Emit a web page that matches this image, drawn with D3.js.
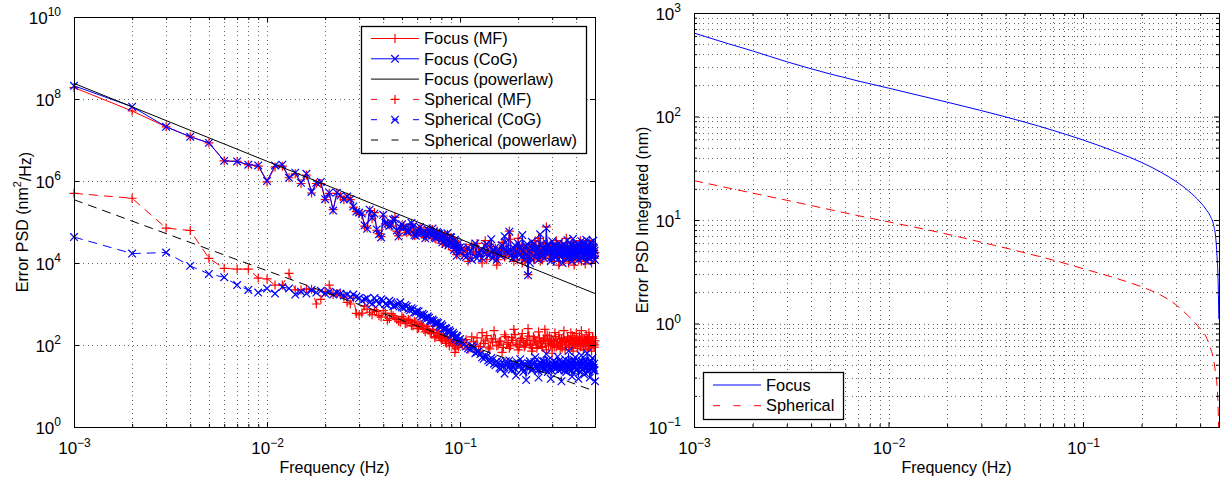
<!DOCTYPE html>
<html>
<head>
<meta charset="utf-8">
<script src="https://cdn.jsdelivr.net/npm/d3@7"></script>
<style>
  body { margin: 0; background: #fff; }
  text { font-family: "Liberation Sans", Arial, Helvetica, sans-serif; fill: #000; }
</style>
</head>
<body>
<svg id="chart" width="1222" height="481"></svg>
<script>
// frequency bins (Hz) for the PSD panel
const freq = [
  0.001,0.002,0.003,0.004,0.005,0.006,0.007,0.008,0.009,0.010,
  0.011,0.012,0.013,0.014,0.015,0.016,0.017,0.018,0.019,0.020,
  0.021,0.022,0.023,0.024,0.025,0.026,0.027,0.028,0.029,0.030,
  0.031,0.032,0.033,0.034,0.035,0.036,0.037,0.038,0.039,0.040,
  0.041,0.042,0.043,0.044,0.045,0.046,0.047,0.048,0.049,0.050,
  0.051,0.052,0.053,0.054,0.055,0.056,0.057,0.058,0.059,0.060,
  0.061,0.062,0.063,0.064,0.065,0.066,0.067,0.068,0.069,0.070,
  0.071,0.072,0.073,0.074,0.075,0.076,0.077,0.078,0.079,0.080,
  0.081,0.082,0.083,0.084,0.085,0.086,0.087,0.088,0.089,0.090,
  0.091,0.092,0.093,0.094,0.095,0.096,0.097,0.098,0.099,0.100,
  0.1025,0.105,0.1075,0.110,0.1125,0.115,0.1175,0.120,0.1225,0.125,0.1275,0.130,0.1325,0.135,0.1375,0.140,
  0.1425,0.145,0.1475,0.150,0.1525,0.155,0.1575,0.160,0.1625,0.165,0.1675,0.170,0.1725,0.175,0.1775,0.180,
  0.1825,0.185,0.1875,0.190,0.1925,0.195,0.1975,0.200,0.2025,0.205,0.2075,0.210,0.2125,0.215,0.2175,0.220,
  0.2225,0.225,0.2275,0.230,0.2325,0.235,0.2375,0.240,0.2425,0.245,0.2475,0.250,0.2525,0.255,0.2575,0.260,
  0.2625,0.265,0.2675,0.270,0.2725,0.275,0.2775,0.280,0.2825,0.285,0.2875,0.290,0.2925,0.295,0.2975,0.300,
  0.3025,0.305,0.3075,0.310,0.3125,0.315,0.3175,0.320,0.3225,0.325,0.3275,0.330,0.3325,0.335,0.3375,0.340,
  0.3425,0.345,0.3475,0.350,0.3525,0.355,0.3575,0.360,0.3625,0.365,0.3675,0.370,0.3725,0.375,0.3775,0.380,
  0.3825,0.385,0.3875,0.390,0.3925,0.395,0.3975,0.400,0.4025,0.405,0.4075,0.410,0.4125,0.415,0.4175,0.420,
  0.4225,0.425,0.4275,0.430,0.4325,0.435,0.4375,0.440,0.4425,0.445,0.4475,0.450,0.4525,0.455,0.4575,0.460,
  0.4625,0.465,0.4675,0.470,0.4725,0.475,0.4775,0.480,0.4825,0.485,0.4875,0.490,0.4925,0.495,0.4975,0.500
];

const focusMF = [
  1.9e8,5.1e7,2.1e7,1.2e7,8.5e6,3.1e6,3.0e6,2.5e6,2.3e6,9.5e5,
  2.2e6,2.3e6,1.2e6,1.5e6,8.7e5,1.4e6,5.1e5,8.7e5,8.7e5,3.5e5,
  5.0e5,2.0e5,5.0e5,4.2e5,3.5e5,4.0e5,3.5e5,2.3e5,1.8e5,1.6e5,
  1.5e5,7.9e4,7.1e4,1.9e5,1.2e5,1.7e5,6.3e4,5.2e4,4.4e4,1.4e5,9.0e4,9.5e4,8.5e4,7.9e4,1.1e5,1.3e5,6.0e4,4.6e4,7.0e4,8.3e4,
  7.8e4,7.1e4,5.5e4,6.0e4,6.3e4,8.9e4,7.5e4,4.6e4,4.8e4,5.6e4,6.5e4,7.2e4,5.0e4,5.2e4,6.3e4,4.2e4,4.5e4,6.3e4,5.8e4,5.0e4,
  4.4e4,6.6e4,5.5e4,4.0e4,3.8e4,6.0e4,5.0e4,4.8e4,4.2e4,3.5e4,3.0e4,4.2e4,4.6e4,2.8e4,3.4e4,5.0e4,2.6e4,3.3e4,4.1e4,4.0e4,
  3.0e4,2.5e4,2.0e4,3.5e4,3.2e4,1.6e4,2.4e4,2.8e4,1.8e4,2.2e4,
  1.6e4,2.0e4,2.4e4,1.1e4,1.3e4,2.8e4,1.9e4,1.6e4,3.0e4,2.2e4,1.5e4,1.0e4,2.1e4,3.5e4,1.2e4,1.8e4,
  2.9e4,2.5e4,1.7e4,1.3e4,2.3e4,8.9e3,1.2e4,2.0e4,1.9e4,3.2e4,2.6e4,1.4e4,1.5e4,2.2e4,2.0e4,6.0e4,
  3.8e4,1.6e4,1.4e4,1.1e4,1.9e4,2.5e4,1.2e4,4.0e4,2.6e4,1.8e4,1.7e4,1.0e4,2.9e4,2.2e4,1.1e4,1.4e4,
  1.8e4,5.2e3,2.4e4,2.0e4,1.5e4,2.8e4,2.1e4,1.3e4,1.2e4,3.5e4,2.7e4,1.8e4,1.5e4,4.0e4,2.3e4,1.1e4,
  1.8e4,2.2e4,1.2e4,3.2e4,2.5e4,1.6e4,1.7e4,7.6e4,3.0e4,2.0e4,2.1e4,1.3e4,1.5e4,2.8e4,2.4e4,1.8e4,
  1.9e4,1.1e4,1.3e4,2.5e4,2.2e4,3.5e4,1.8e4,1.4e4,2.6e4,8.9e3,1.4e4,2.0e4,1.9e4,2.8e4,3.1e4,1.6e4,
  2.0e4,1.1e4,1.5e4,2.5e4,2.2e4,4.0e4,2.7e4,1.8e4,1.6e4,1.0e4,1.3e4,2.2e4,2.4e4,1.4e4,1.9e4,3.2e4,
  2.3e4,1.8e4,1.4e4,8.9e3,1.6e4,2.0e4,2.0e4,2.8e4,2.6e4,1.3e4,1.7e4,2.2e4,1.2e4,1.6e4,2.0e4,3.5e4,
  1.8e4,1.1e4,2.4e4,2.0e4,3.0e4,1.4e4,1.6e4,2.8e4,2.2e4,9.5e3,1.3e4,1.8e4,1.9e4,2.5e4,2.3e4,1.3e4,
  1.5e4,2.2e4,2.1e4,3.5e4,2.6e4,1.6e4,1.4e4,1.0e4,1.7e4,2.0e4,2.2e4,2.8e4,2.0e4,1.3e4,1.5e4,1.8e4
];

const focusCoG = [
  2.1e8,6.5e7,2.1e7,1.2e7,8.5e6,3.1e6,3.0e6,2.5e6,2.4e6,1.0e6,
  2.4e6,2.5e6,1.2e6,1.6e6,9.0e5,1.5e6,5.4e5,9.0e5,9.5e5,3.6e5,
  5.2e5,1.9e5,5.2e5,4.4e5,3.6e5,4.2e5,3.6e5,2.4e5,1.8e5,1.7e5,
  1.6e5,8.3e4,6.8e4,2.0e5,1.25e5,1.6e5,6.6e4,5.0e4,4.2e4,1.5e5,9.5e4,9.0e4,8.0e4,8.5e4,1.15e5,1.2e5,6.2e4,4.4e4,7.4e4,8.8e4,
  7.5e4,7.5e4,5.8e4,5.8e4,6.6e4,9.5e4,7.9e4,4.8e4,4.6e4,5.4e4,6.8e4,7.6e4,5.3e4,5.5e4,6.0e4,4.0e4,4.7e4,6.6e4,6.1e4,5.3e4,
  4.6e4,7.0e4,5.8e4,4.2e4,4.0e4,5.7e4,5.3e4,5.0e4,4.4e4,3.7e4,3.2e4,4.5e4,4.8e4,2.9e4,3.6e4,5.3e4,2.7e4,3.1e4,4.3e4,4.2e4,
  3.1e4,2.6e4,2.1e4,3.7e4,3.4e4,1.5e4,2.5e4,3.0e4,1.9e4,2.4e4,
  2.2e4,1.5e4,1.4e4,2.4e4,1.9e4,1.2e4,2.5e4,3.0e4,1.3e4,1.7e4,2.1e4,1.3e4,1.8e4,2.6e4,2.9e4,1.5e4,
  1.6e4,3.8e4,1.3e4,2.0e4,2.4e4,1.2e4,2.0e4,1.6e4,1.5e4,2.7e4,2.2e4,4.5e4,3.2e4,1.9e4,1.7e4,5.8e4,
  2.1e4,1.6e4,1.3e4,2.3e4,2.7e4,1.4e4,1.8e4,3.0e4,2.3e4,1.6e4,1.4e4,4.8e4,2.0e4,1.2e4,1.6e4,2.6e4,
  2.9e4,5.0e3,1.9e4,1.0e4,1.3e4,3.3e4,2.4e4,2.1e4,3.0e4,1.4e4,1.7e4,2.5e4,2.2e4,1.2e4,1.5e4,5.0e4,
  2.8e4,1.7e4,1.6e4,2.4e4,1.3e4,2.0e4,2.5e4,7.0e4,1.8e4,2.9e4,2.6e4,1.9e4,2.2e4,1.1e4,1.4e4,3.4e4,
  1.7e4,2.0e4,2.7e4,1.5e4,1.4e4,2.6e4,2.2e4,1.2e4,1.6e4,3.1e4,2.5e4,1.8e4,1.4e4,2.3e4,2.0e4,1.0e4,
  1.8e4,2.9e4,2.4e4,1.6e4,2.1e4,1.3e4,1.6e4,3.6e4,1.3e4,2.0e4,2.5e4,1.4e4,1.8e4,2.7e4,2.2e4,1.1e4,
  1.4e4,3.9e4,2.8e4,1.7e4,1.6e4,2.4e4,2.1e4,1.5e4,1.7e4,3.0e4,2.3e4,1.2e4,1.5e4,2.6e4,2.5e4,1.9e4,
  1.7e4,3.4e4,2.1e4,1.3e4,1.5e4,2.8e4,2.4e4,1.6e4,3.0e4,2.2e4,1.6e4,3.7e4,2.0e4,1.1e4,1.4e4,2.5e4,
  2.6e4,1.8e4,2.2e4,1.3e4,1.5e4,3.2e4,1.8e4,2.1e4,2.5e4,1.4e4,1.6e4,3.5e4,2.2e4,1.7e4,2.0e4,1.2e4
];

const sphMF = [
  5.0e5,3.8e5,7.1e4,6.2e4,1.3e4,7.4e3,7.1e3,7.1e3,4.3e3,4.1e3,
  2.9e3,2.9e3,5.6e3,2.2e3,2.2e3,2.3e3,2.3e3,1.0e3,1.3e3,2.0e3,
  2.9e3,1.7e3,1.8e3,1.7e3,1.5e3,1.1e3,1.0e3,1.4e3,5.9e2,5.4e2,
  6.0e2,8.9e2,7.5e2,6.3e2,5.5e2,7.2e2,6.6e2,5.2e2,4.8e2,6.9e2,6.0e2,4.0e2,4.4e2,5.8e2,5.2e2,4.6e2,4.2e2,3.8e2,3.6e2,5.0e2,
  4.5e2,3.3e2,3.4e2,4.2e2,4.0e2,3.0e2,2.9e2,3.8e2,3.6e2,2.5e2,2.6e2,3.3e2,3.1e2,2.8e2,2.4e2,2.1e2,2.5e2,2.9e2,2.3e2,2.0e2,
  1.9e2,2.4e2,2.0e2,1.5e2,1.6e2,2.2e2,1.9e2,1.7e2,1.5e2,1.3e2,1.4e2,1.8e2,1.5e2,1.2e2,1.1e2,1.6e2,1.3e2,95,1.2e2,1.4e2,
  1.1e2,1.0e2,1.2e2,66,80,1.3e2,1.0e2,89,1.2e2,1.1e2,
  98,112,135,79,85,158,120,100,150,71,92,200,110,126,170,89,
  80,141,118,224,140,95,100,120,125,66,88,178,160,105,115,83,
  95,151,130,240,180,112,102,76,90,132,145,191,118,89,98,112,
  128,251,165,100,105,71,85,158,140,126,112,83,100,209,150,112,
  122,91,88,141,132,240,108,76,175,120,96,166,125,100,140,63,
  105,132,90,200,160,89,120,112,98,178,138,79,112,141,85,105,
  150,224,128,76,95,120,115,158,142,87,100,132,125,200,88,95,
  168,71,110,151,135,112,102,191,148,83,96,126,120,166,130,91,
  92,224,155,110,118,76,100,141,132,100,108,178,122,79,140,132,
  92,200,160,95,105,115,128,71,98,158,145,105,112,89,100,126
];

const sphCoG = [
  4.3e4,1.7e4,1.8e4,8.5e3,5.4e3,4.5e3,2.9e3,2.2e3,1.9e3,2.4e3,
  1.8e3,2.6e3,2.4e3,1.7e3,2.0e3,1.8e3,2.2e3,1.9e3,2.1e3,1.8e3,
  2.0e3,1.7e3,1.9e3,1.8e3,1.6e3,1.7e3,1.5e3,1.7e3,1.5e3,1.4e3,
  1.2e3,1.3e3,1.4e3,1.1e3,1.0e3,1.4e3,1.2e3,1.0e3,1.3e3,1.2e3,1.0e3,9.5e2,1.2e3,1.1e3,8.8e2,9.1e2,9.6e2,1.0e3,1.1e3,8.3e2,
  8.0e2,9.5e2,8.8e2,7.6e2,7.0e2,7.9e2,7.4e2,6.3e2,6.2e2,6.9e2,6.6e2,5.5e2,4.9e2,5.8e2,5.4e2,4.6e2,4.3e2,5.0e2,4.6e2,4.0e2,
  3.8e2,4.2e2,3.9e2,3.5e2,3.2e2,3.6e2,3.4e2,2.9e2,2.7e2,3.2e2,2.9e2,2.5e2,2.4e2,2.6e2,2.5e2,2.2e2,2.0e2,2.3e2,2.1e2,1.8e2,
  1.7e2,2.0e2,1.8e2,1.5e2,1.4e2,1.7e2,1.6e2,1.3e2,1.2e2,1.4e2,
  120,105,92,83,78,95,88,63,66,71,60,50,46,56,52,42,
  38,48,44,35,32,40,36,28,26,38,30,20,40,33,28,42,
  34,25,30,35,26,18,38,32,30,45,36,26,22,35,33,14,
  28,30,35,40,30,24,26,33,38,50,32,28,24,16,30,35,
  36,42,28,25,40,32,26,60,33,22,44,35,28,15,24,30,
  34,40,30,26,38,35,28,52,32,24,42,32,26,13,30,38,
  35,28,24,45,36,22,28,33,26,71,40,25,30,35,24,17,
  34,40,44,30,28,50,36,24,26,33,34,15,30,38,22,28,
  32,56,40,25,26,35,34,19,30,42,38,30,28,63,35,22,
  24,33,40,16,30,40,26,28,36,48,32,24,28,35,24,13
];

// power-law fits, end points
const powFreq = [0.001, 0.5];
const focusPow = [2.4e8, 1.8e3];
const sphPow = [3.5e5, 7.4];

// integrated PSD panel
const intFreq = [0.001,0.0015,0.002,0.003,0.005,0.007,0.01,0.02,0.03,0.05,0.07,0.1,
  0.15,0.2,0.25,0.3,0.35,0.4,0.43,0.45,0.47,0.48,0.49,0.495,0.499];
const focusInt = [640,505,430,338,258,220,188,137.6,114,88.4,73.5,59.3,
  45,36,29.1,23.6,19.0,14.9,12.6,11.0,8.8,7.0,4.0,2.5,1.1];
const sphInt = [24,20.4,18.2,15.5,12.6,11.0,9.6,7.3,6.1,4.83,4.1,3.39,
  2.71,2.26,1.89,1.52,1.17,0.89,0.74,0.59,0.44,0.33,0.23,0.15,0.08];

const xTicks = [1e-3, 1e-2, 1e-1];
const xTickExp = ["\u22123", "\u22122", "\u22121"];
const leftYTicks = [1e0, 1e2, 1e4, 1e6, 1e8, 1e10];
const leftYExp = ["0", "2", "4", "6", "8", "10"];
const rightYTicks = [1e-1, 1e0, 1e1, 1e2, 1e3];
const rightYExp = ["\u22121", "0", "1", "2", "3"];

const leftLegend = ["Focus (MF)", "Focus (CoG)", "Focus (powerlaw)",
  "Spherical (MF)", "Spherical (CoG)", "Spherical (powerlaw)"];
const rightLegend = ["Focus", "Spherical"];

[focusMF, focusCoG, sphMF, sphCoG].forEach(function(s) {
  if (s.length !== freq.length) console.log("length mismatch", s.length, freq.length);
});

const RED = "#ff0000", BLUE = "#0000ff";
const DASH = "9,6";
const svg = d3.select("#chart");
svg.append("rect").attr("width", 1222).attr("height", 481).attr("fill", "#fff");

function minorsBetween(lo, hi) {
  const out = [];
  for (let e = lo; e < hi; e++) {
    for (let m = 2; m <= 9; m++) out.push(m * Math.pow(10, e));
  }
  return out;
}

function supLabel(sel, exps) {
  sel.each(function(d, i) {
    const t = d3.select(this).text(null);
    t.append("tspan").text("10");
    t.append("tspan").attr("dy", "-0.6em").style("font-size", "12px").text(exps[i]);
  });
}

function panel(box, yDomain, yGridVals, yMinor, yTicks, yExp) {
  const x = d3.scaleLog().domain([1e-3, 0.5]).range([box.x0, box.x1]);
  const y = d3.scaleLog().domain(yDomain).range([box.y1, box.y0]);
  const g = svg.append("g");

  const clipId = "clip" + box.x0;
  svg.append("clipPath").attr("id", clipId)
    .append("rect").attr("x", box.x0).attr("y", box.y0)
    .attr("width", box.x1 - box.x0).attr("height", box.y1 - box.y0);

  // dotted grid
  const xGrid = xTicks.concat(minorsBetween(-3, 0).filter(v => v < 0.5));
  const grid = g.append("g").attr("stroke", "#000").attr("stroke-opacity", 0.6)
    .attr("stroke-width", 1).attr("stroke-dasharray", "1,3.5").attr("shape-rendering", "crispEdges");
  grid.selectAll(".gx").data(xGrid).join("line")
    .attr("x1", d => Math.round(x(d)) + 0.5).attr("x2", d => Math.round(x(d)) + 0.5)
    .attr("y1", box.y0).attr("y2", box.y1);
  grid.selectAll(".gy").data(yGridVals).join("line")
    .attr("y1", d => Math.round(y(d)) + 0.5).attr("y2", d => Math.round(y(d)) + 0.5)
    .attr("x1", box.x0).attr("x2", box.x1);

  return {x: x, y: y, g: g, clipId: clipId, box: box, yTicks: yTicks, yExp: yExp, yMinor: yMinor};
}

function frame(p) {
  const box = p.box, x = p.x, y = p.y, g = svg.append("g");
  const xMinor = minorsBetween(-3, 0).filter(v => v < 0.5);

  const bottom = g.append("g").attr("transform", "translate(0," + box.y1 + ")")
    .call(d3.axisBottom(x).tickValues(xTicks).tickSize(-5).tickPadding(15));
  bottom.selectAll(".tick text").style("font-size", "17px").call(supLabel, xTickExp);
  g.append("g").attr("transform", "translate(0," + box.y1 + ")")
    .call(d3.axisBottom(x).tickValues(xMinor).tickSize(-3).tickFormat(""));
  g.append("g").attr("transform", "translate(0," + box.y0 + ")")
    .call(d3.axisTop(x).tickValues(xTicks).tickSize(-5).tickFormat(""));
  g.append("g").attr("transform", "translate(0," + box.y0 + ")")
    .call(d3.axisTop(x).tickValues(xMinor).tickSize(-3).tickFormat(""));

  const leftAx = g.append("g").attr("transform", "translate(" + box.x0 + ",0)")
    .call(d3.axisLeft(y).tickValues(p.yTicks).tickSize(-5).tickPadding(13));
  leftAx.selectAll(".tick text").style("font-size", "17px").attr("dy", "0.36em")
    .call(supLabel, p.yExp);
  g.append("g").attr("transform", "translate(" + box.x1 + ",0)")
    .call(d3.axisRight(y).tickValues(p.yTicks).tickSize(-5).tickFormat(""));
  if (p.yMinor.length) {
    g.append("g").attr("transform", "translate(" + box.x0 + ",0)")
      .call(d3.axisLeft(y).tickValues(p.yMinor).tickSize(-3).tickFormat(""));
    g.append("g").attr("transform", "translate(" + box.x1 + ",0)")
      .call(d3.axisRight(y).tickValues(p.yMinor).tickSize(-3).tickFormat(""));
  }
  g.selectAll(".domain").remove();
  g.selectAll(".tick line").attr("stroke-width", 1);

  g.append("rect").attr("x", box.x0 + 0.5).attr("y", box.y0 + 0.5)
    .attr("width", box.x1 - box.x0).attr("height", box.y1 - box.y0)
    .attr("fill", "none").attr("stroke", "#000").attr("stroke-width", 1);
}

const plus = "M-4.5,0H4.5M0,-4.5V4.5";
const cross = "M-3.8,-3.8L3.8,3.8M-3.8,3.8L3.8,-3.8";

function series(p, xs, ys, color, dash, marker) {
  const pts = xs.map((f, i) => [f, ys[i]]);
  const line = d3.line().x(d => p.x(d[0])).y(d => p.y(d[1]));
  p.g.append("path").datum(pts).attr("d", line)
    .attr("clip-path", "url(#" + p.clipId + ")")
    .attr("fill", "none").attr("stroke", color).attr("stroke-width", 1)
    .attr("stroke-dasharray", dash);
  if (marker) {
    p.g.append("g").selectAll("path").data(pts).join("path")
      .attr("d", marker)
      .attr("transform", d => "translate(" + p.x(d[0]) + "," + p.y(d[1]) + ")")
      .attr("fill", "none").attr("stroke", color).attr("stroke-width", 1.2);
  }
}

// ---- left panel ----
const L = panel({x0: 74, x1: 595, y0: 17, y1: 427}, [1e0, 1e10], leftYTicks, [], leftYTicks, leftYExp);
series(L, freq, focusMF, RED, null, plus);
series(L, freq, focusCoG, BLUE, null, cross);
series(L, powFreq, focusPow, "#000", null, null);
series(L, freq, sphMF, RED, DASH, plus);
series(L, freq, sphCoG, BLUE, DASH, cross);
series(L, powFreq, sphPow, "#000", DASH, null);
frame(L);

// ---- right panel ----
const rMinor = minorsBetween(-1, 3);
const R = panel({x0: 694, x1: 1219, y0: 13, y1: 427}, [1e-1, 1e3],
  rightYTicks.concat(rMinor), rMinor, rightYTicks, rightYExp);
const smooth = d3.line().curve(d3.curveMonotoneX);
function smoothSeries(p, xs, ys, color, dash) {
  const pts = xs.map((f, i) => [p.x(f), p.y(ys[i])]);
  p.g.append("path").attr("d", smooth(pts))
    .attr("clip-path", "url(#" + p.clipId + ")")
    .attr("fill", "none").attr("stroke", color).attr("stroke-width", 1)
    .attr("stroke-dasharray", dash);
}
smoothSeries(R, intFreq, focusInt, BLUE, null);
smoothSeries(R, intFreq, sphInt, RED, DASH);
frame(R);

// ---- axis titles ----
svg.append("text").attr("x", (74 + 595) / 2).attr("y", 473).attr("text-anchor", "middle")
  .style("font-size", "16px").text("Frequency (Hz)");
svg.append("text").attr("x", (694 + 1219) / 2).attr("y", 473).attr("text-anchor", "middle")
  .style("font-size", "16px").text("Frequency (Hz)");

const yl = svg.append("text").attr("transform", "translate(27.5,222) rotate(-90)")
  .attr("text-anchor", "middle").style("font-size", "16px");
yl.append("tspan").text("Error PSD (nm");
yl.append("tspan").attr("dy", "-0.6em").style("font-size", "11px").text("2");
yl.append("tspan").attr("dy", "0.6em").text("/Hz)");
svg.append("text").attr("transform", "translate(647.5,220) rotate(-90)")
  .attr("text-anchor", "middle").style("font-size", "16px").text("Error PSD Integrated (nm)");

// ---- legends ----
function legend(x, y, w, h, rows, items) {
  const g = svg.append("g");
  g.append("rect").attr("x", x + 0.5).attr("y", y + 0.5).attr("width", w).attr("height", h)
    .attr("fill", "#fff").attr("stroke", "#000").attr("stroke-width", 1.3);
  items.forEach(function(it, i) {
    const ry = rows[i];
    g.append("line").attr("x1", x + 10).attr("x2", x + 58).attr("y1", ry).attr("y2", ry)
      .attr("stroke", it.color).attr("stroke-width", 1).attr("stroke-dasharray", it.dash);
    if (it.marker) {
      g.append("path").attr("d", it.marker).attr("transform", "translate(" + (x + 34) + "," + ry + ")")
        .attr("fill", "none").attr("stroke", it.color).attr("stroke-width", 1.2);
    }
    g.append("text").attr("x", x + 63).attr("y", ry + 5.7).style("font-size", "16.4px").text(it.label);
  });
}

legend(361, 26, 225, 127, [38.5, 58.8, 79.1, 99.4, 119.7, 140], [
  {label: leftLegend[0], color: RED, dash: null, marker: plus},
  {label: leftLegend[1], color: BLUE, dash: null, marker: cross},
  {label: leftLegend[2], color: "#000", dash: null, marker: null},
  {label: leftLegend[3], color: RED, dash: "6,15", marker: plus},
  {label: leftLegend[4], color: BLUE, dash: "6,15", marker: cross},
  {label: leftLegend[5], color: "#000", dash: "7,13.5", marker: null}
]);
legend(703, 372, 140, 47, [385, 405.7], [
  {label: rightLegend[0], color: BLUE, dash: null, marker: null},
  {label: rightLegend[1], color: RED, dash: "7,13.5", marker: null}
]);
</script>
</body>
</html>
